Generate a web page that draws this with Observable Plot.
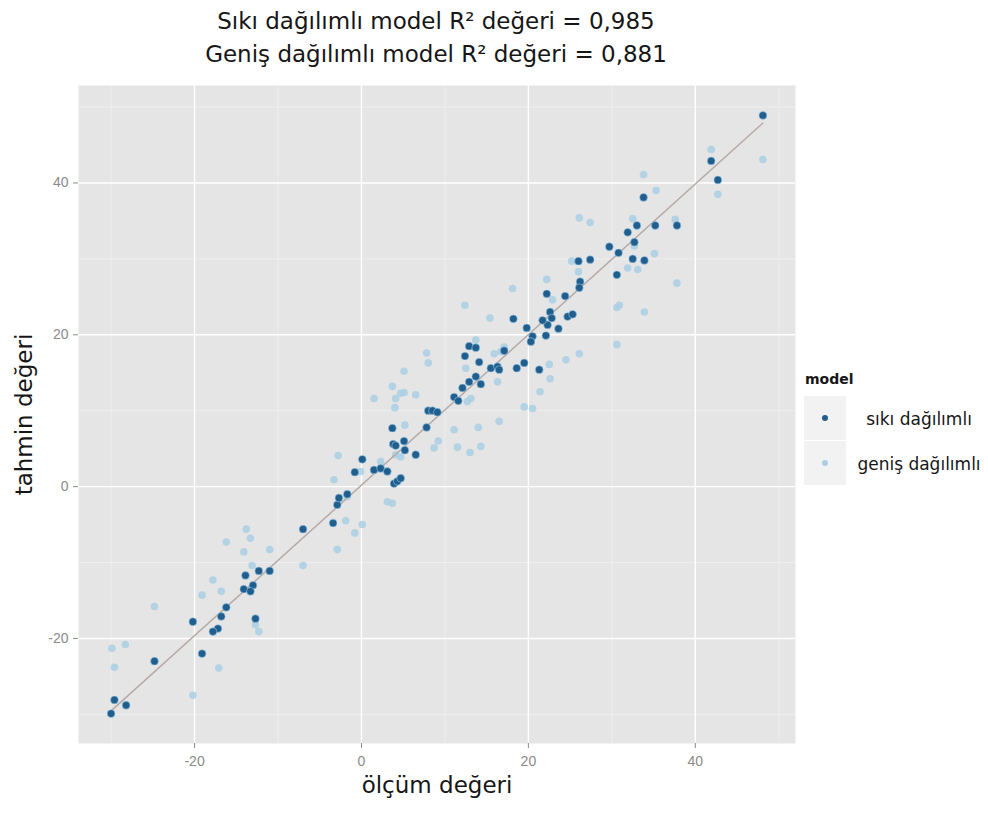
<!DOCTYPE html>
<html>
<head>
<meta charset="utf-8">
<script src="https://cdn.jsdelivr.net/npm/d3@7"></script>
<script src="https://cdn.jsdelivr.net/npm/@observablehq/plot@0.6"></script>
<style>
  body { margin: 0; background: #ffffff; }
  #chart { position: relative; width: 988px; height: 813px; font-family: "DejaVu Sans", sans-serif; color: #161616; }
  .title { position: absolute; left: 0; width: 872px; text-align: center; font-size: 23px; line-height: 1; white-space: nowrap; }
  #plot { position: absolute; left: 0; top: 78px; }
  #legend { position: absolute; left: 800px; top: 368px; }
  #legend .ltitle { position: absolute; left: 5px; top: 3px; font-weight: bold; font-size: 14px; }
  #legend .key { position: absolute; left: 4px; width: 42px; height: 44px; background: #F2F2F2; }
  #legend .lab { position: absolute; left: 52px; width: 134px; text-align: center; font-size: 17px; line-height: 1; white-space: nowrap; }
</style>
</head>
<body>
<div id="chart"></div>
<script>
// Model names, colours and R² values
const models = ["sıkı dağılımlı", "geniş dağılımlı"];
const titleNames = ["Sıkı dağılımlı", "Geniş dağılımlı"];
const r2 = [0.985, 0.881];
const colors = ["#1f5e8d", "#aacfe4"];

// Axis ticks
const xTicks = [-20, 0, 20, 40];
const yTicks = [-20, 0, 20, 40];
const minorTicks = [-30, -10, 10, 30, 50];

// Measured value vs. prediction, tight model
const tightPoints = [
  [-7.0,-5.6],[-13.9,-11.7],[-12.3,-11.1],[-11.0,-11.1],[-14.1,-13.5],[-13.0,-13.0],[-13.3,-13.8],
  [-16.2,-15.9],[-16.8,-17.1],[-20.2,-17.8],[-12.7,-17.4],[-17.2,-18.7],[-17.8,-19.1],[-19.1,-22.0],
  [-24.8,-23.0],[-29.6,-28.1],[-28.2,-28.8],[-30.0,-29.9],[-3.4,-4.8],[-2.9,-2.4],[-2.7,-1.5],
  [-1.7,-1.0],[-0.8,1.9],[0.1,3.6],[1.5,2.2],[2.3,2.4],[3.1,2.0],[3.9,0.4],[4.3,0.7],[4.7,1.1],
  [3.7,7.7],[3.8,5.6],[4.1,5.4],[5.1,6.0],[5.2,4.8],[6.5,4.2],[7.8,7.8],[8.0,10.0],[8.5,10.0],
  [9.1,9.8],[11.1,11.8],[12.1,13.0],[12.9,13.8],[13.7,14.5],[14.3,13.5],[12.4,17.2],[12.9,18.5],
  [13.7,18.3],[14.1,16.4],[15.5,15.6],[16.3,15.8],[16.5,15.4],[17.1,17.9],[18.2,22.1],[18.6,15.6],
  [19.5,16.3],[19.8,20.9],[11.6,11.3],[33.8,38.1],[31.9,33.5],[33.0,34.4],[29.7,31.6],[30.8,30.8],
  [32.5,30.0],[33.9,29.8],[30.6,27.9],[26.0,29.7],[27.4,29.9],[26.2,27.0],[26.1,26.2],[22.2,25.4],
  [24.4,25.1],[22.6,23.0],[22.8,22.2],[22.3,21.3],[24.7,22.4],[25.3,22.7],[23.6,20.8],[20.5,19.8],
  [20.3,19.1],[22.1,19.9],[21.3,15.4],[21.7,21.9],[32.7,32.2],[48.1,48.9],[41.9,42.9],[42.7,40.4],
  [35.2,34.4],[37.8,34.4]
];

// Measured value vs. prediction, wide model
const widePoints = [
  [-13.8,-5.6],[-13.3,-6.8],[-16.2,-7.3],[-14.1,-8.6],[-11.0,-8.3],[-7.0,-10.4],[-13.1,-10.4],
  [-17.8,-12.3],[-16.8,-13.8],[-19.1,-14.3],[-24.8,-15.8],[-12.7,-18.2],[-12.3,-19.1],[-29.9,-21.3],
  [-28.3,-20.8],[-29.6,-23.8],[-17.1,-23.9],[-20.2,-27.5],[-2.9,-8.3],[-0.8,-6.1],[0.1,-5.0],
  [-1.9,-4.5],[3.1,-2.0],[3.7,-2.2],[-3.3,0.9],[-2.8,4.1],[-0.1,2.0],[4.1,4.2],[5.2,8.1],[1.5,11.6],
  [3.7,13.2],[4.1,11.6],[4.7,12.3],[5.1,12.4],[4.0,10.4],[5.1,15.2],[6.5,12.1],[7.8,17.6],[8.0,16.3],
  [9.2,6.0],[8.7,5.1],[11.1,7.5],[11.5,5.2],[13.0,4.5],[14.0,7.8],[14.3,5.3],[16.5,8.6],[19.5,10.5],
  [15.4,22.2],[12.4,23.9],[13.7,19.3],[16.3,13.8],[12.5,15.6],[13.1,11.6],[12.7,11.2],[26.1,35.4],
  [27.4,34.8],[32.5,35.3],[31.9,28.8],[33.1,28.6],[30.6,23.6],[33.9,23.0],[25.2,29.7],[26.0,28.3],
  [22.2,27.3],[18.1,26.1],[22.9,24.6],[30.6,18.7],[26.1,17.5],[24.5,16.7],[22.5,16.1],[22.6,14.2],
  [21.4,12.5],[20.5,10.3],[17.1,18.4],[16.7,17.8],[15.9,17.5],[41.9,44.4],[48.1,43.1],[42.7,38.5],
  [33.8,41.1],[35.3,39.0],[37.6,35.2],[32.7,31.7],[35.1,30.7],[37.8,26.8],[30.9,23.9],
  [2.3,3.3],[-1.7,-1.3],[4.7,3.9]
];

const chart = document.getElementById("chart");

// Two-line title with the R² of each model
titleNames.forEach((name, i) => {
  const t = document.createElement("div");
  t.className = "title";
  t.style.top = (10 + i * 33) + "px";
  t.textContent = `${name} model R² değeri = ${String(r2[i]).replace(".", ",")}`;
  chart.appendChild(t);
});

const tight = tightPoints.map(([x, y]) => ({x, y}));
const wide = widePoints.map(([x, y]) => ({x, y}));

// ggplot-like 5% expansion of the data range
const expand = ([a, b]) => [a - 0.05 * (b - a), b + 0.05 * (b - a)];
const all = tightPoints.concat(widePoints);
const xDomain = expand(d3.extent(all, d => d[0]));
const yDomain = expand(d3.extent(all, d => d[1]));

const axisStyle = {
  tickSize: 5,
  fontSize: 14,
  color: "#8a8a8a",
  fontFamily: "Liberation Sans, Arial, sans-serif",
  tickFormat: d => `${d}`,
  label: null
};

const plot = Plot.plot({
  width: 988,
  height: 735,
  marginTop: 7,
  marginRight: 193,
  marginBottom: 70,
  marginLeft: 78,
  style: { fontFamily: "DejaVu Sans, sans-serif", background: "transparent", color: "#161616" },
  x: { domain: xDomain },
  y: { domain: yDomain },
  marks: [
    Plot.frame({ fill: "#E5E5E5", stroke: null }),
    Plot.ruleX(minorTicks, { stroke: "#F2F2F2", strokeWidth: 0.7 }),
    Plot.ruleY(minorTicks, { stroke: "#F2F2F2", strokeWidth: 0.7 }),
    Plot.ruleX(xTicks, { stroke: "#ffffff", strokeWidth: 1.4 }),
    Plot.ruleY(yTicks, { stroke: "#ffffff", strokeWidth: 1.4 }),
    Plot.axisX(xTicks, { ...axisStyle, tickPadding: 8 }),
    Plot.axisY(yTicks, { ...axisStyle, tickPadding: 5 }),
    Plot.dot(wide, { x: "x", y: "y", r: 3.8, fill: colors[1], fillOpacity: 0.85, stroke: null }),
    Plot.linearRegressionY(tight, { x: "x", y: "y", stroke: "#b5aaa7", strokeWidth: 1.5, ci: 0 }),
    Plot.dot(tight, { x: "x", y: "y", r: 3.9, fill: colors[0], stroke: "#a6d0ec", strokeWidth: 1, strokeOpacity: 0.55 }),
    Plot.text(["ölçüm değeri"], { frameAnchor: "bottom", lineAnchor: "middle", textAnchor: "middle", dy: 42, fontSize: 23, fill: "#161616" }),
    Plot.text(["tahmin değeri"], { frameAnchor: "left", textAnchor: "middle", lineAnchor: "middle", dx: -54, rotate: -90, fontSize: 23, fill: "#161616" })
  ]
});
plot.id = "plot";
chart.appendChild(plot);

// Legend
const legend = document.createElement("div");
legend.id = "legend";
const lt = document.createElement("div");
lt.className = "ltitle";
lt.textContent = "model";
legend.appendChild(lt);
models.forEach((m, i) => {
  const key = document.createElement("div");
  key.className = "key";
  key.style.top = (28 + i * 45) + "px";
  key.innerHTML = `<svg width="42" height="44"><circle cx="21" cy="22" r="3" fill="${colors[i]}"></circle></svg>`;
  legend.appendChild(key);
  const lab = document.createElement("div");
  lab.className = "lab";
  lab.style.top = (43 + i * 45) + "px";
  lab.textContent = m;
  legend.appendChild(lab);
});
chart.appendChild(legend);
</script>
</body>
</html>
